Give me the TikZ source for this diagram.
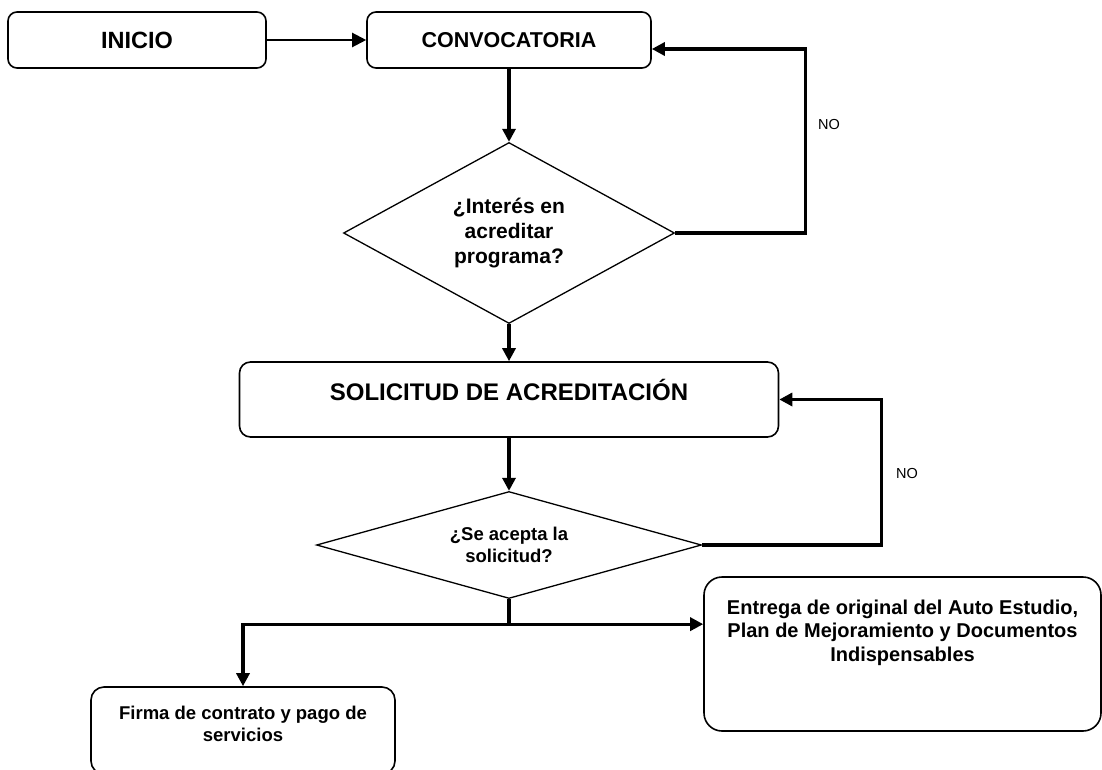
\documentclass[tikz,border=0pt]{standalone}
\usepackage{fontspec}
\setmainfont{Liberation Sans}
\usetikzlibrary{shapes.geometric,arrows.meta}

\begin{document}
\begin{tikzpicture}[x=1pt,y=1pt]
	\tikzstyle{box}=[rectangle, rounded corners=9pt, draw=black, line width=1.6pt, inner sep=0pt, align=center]
	\tikzstyle{decision}=[diamond, draw=black, line width=1.3pt, inner sep=0pt, align=center]
	\tikzstyle{connect}=[-{Triangle[length=13pt,width=13pt]}, line width=3.2pt]
	\tikzstyle{link}=[-{Triangle[length=14pt,width=14pt]}, line width=2.2pt]
	\tikzstyle{line}=[line width=3.2pt]
	\tikzstyle{answer}=[font=\fontsize{14.5}{17}\selectfont]
	\useasboundingbox (0,0) rectangle (1102,-770);
	  \node[box, minimum width=284pt, minimum height=56pt, font=\bfseries\fontsize{21.5}{25}\selectfont] (conv) at (509,-40) {CONVOCATORIA};
	  \node[box, minimum width=258pt, minimum height=56pt, font=\bfseries\fontsize{23.5}{28}\selectfont] (inicio) [left of=conv, node distance=372pt] {INICIO};
	  \node[decision, minimum width=331pt, minimum height=181pt, aspect=1.83, font=\bfseries\fontsize{21}{25}\selectfont] (q1) [below of=conv, node distance=193pt] {¿Interés en\\acreditar\\programa?};
	  \node[box, rounded corners=11pt, minimum width=539pt, minimum height=75pt, text height=17pt, text depth=15pt, font=\bfseries\fontsize{24}{28}\selectfont] (solic) [below of=q1, node distance=166.5pt] {SOLICITUD DE ACREDITACIÓN};
	  \node[decision, minimum width=385pt, minimum height=107pt, aspect=3.6, font=\bfseries\fontsize{18.5}{22}\selectfont] (q2) [below of=solic, node distance=145.5pt] {¿Se acepta la\\solicitud?};
	  \node[box, rounded corners=13pt, minimum width=304pt, minimum height=87pt, text height=40pt, text depth=18pt, font=\bfseries\fontsize{18.5}{22}\selectfont] (firma) [below of=q2, xshift=-266pt, node distance=185.5pt] {Firma de contrato y pago de\\servicios};
	  \node[box, rounded corners=18pt, minimum width=397pt, minimum height=154pt, text height=50pt, text depth=36pt, font=\bfseries\fontsize{20}{23.5}\selectfont] (entrega) [below of=q2, xshift=393.5pt, node distance=109pt] {Entrega de original del Auto Estudio,\\Plan de Mejoramiento y Documentos\\Indispensables};
	  \node[answer] (no1) at (829,-125) {NO};
	  \node[answer] (no2) at (907,-474) {NO};
	  \coordinate (split) at ([yshift=-25pt]q2.south);
	  \draw[link] (inicio) -- (conv);
	  \draw[connect] (conv) -- (q1);
	  \draw[connect] (q1.east) -- ++(130,0) |- ([yshift=-9pt]conv.east);
	  \draw[connect] (q1) -- (solic);
	  \draw[connect] (solic) -- (q2);
	  \draw[connect] (q2.east) -- ++(179.5,0) |- (solic.east);
	  \draw[line] (q2.south) -- (split);
	  \draw[connect] (split) -| (firma.north);
	  \draw[connect] (split) -- (split -| entrega.west);
\end{tikzpicture}
\end{document}
